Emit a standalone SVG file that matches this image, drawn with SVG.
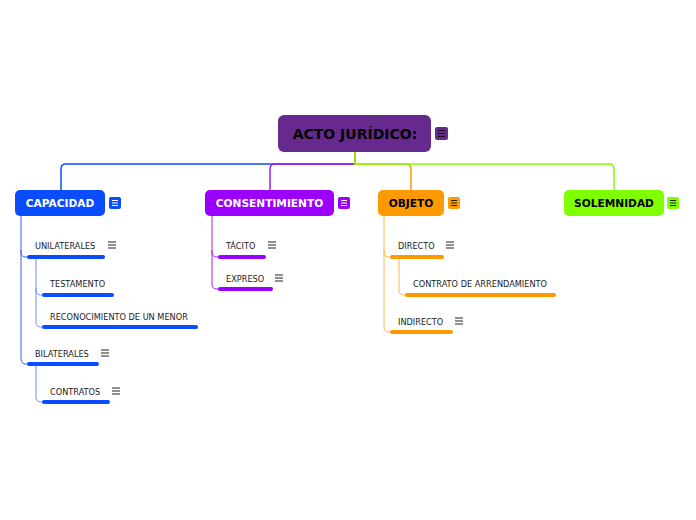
<svg xmlns="http://www.w3.org/2000/svg" width="696" height="520" viewBox="0 0 696 520">
<style>
.c{fill:none;stroke-width:1.5}
.s{fill:none;stroke-width:1}
.bar{fill:none;stroke-width:4;stroke-linecap:round}
.mt{font-family:"DejaVu Sans",Verdana,sans-serif;font-weight:bold;font-size:10.6px}
.st{font-family:"DejaVu Sans",Verdana,sans-serif;font-size:8.2px;fill:#222}
.ic{stroke-width:1.2}
</style>
<rect width="696" height="520" fill="#fff"/>
<g id="connectors">
<path class="c" stroke="#0a4cff" d="M355,152 V164 H66 Q61,164 61,169 V190"/>
<path class="c" stroke="#a020f0" d="M355,152 V164 H275 Q270,164 270,169 V190"/>
<path class="c" stroke="#ff9900" d="M355,152 V164 H406 Q411,164 411,169 V190"/>
<path class="c" stroke="#80ff00" d="M355,152 V164 H609 Q614,164 614,169 V190"/>
<path class="s" stroke="#2f63ff" d="M21,216 V252 Q21,257 26,257 H28 M21,250 V359 Q21,364 26,364 H28"/>
<path class="s" stroke="#6a8fff" d="M36,257 V290 Q36,295 41,295 H43 M36,288 V322 Q36,327 41,327 H43 M36,364 V397 Q36,402 41,402 H43"/>
<path class="s" stroke="#a020f0" d="M212,216 V252 Q212,257 217,257 H219 M212,250 V284 Q212,289 217,289 H219"/>
<path class="s" stroke="#ffb648" d="M384,216 V252 Q384,257 389,257 H391 M384,250 V327 Q384,332 389,332 H391 M399,257 V290 Q399,295 404,295 H406"/>
</g>
<g id="root">
<rect x="278" y="115" width="153" height="37" rx="6" fill="#662a8e"/>
<text x="355" y="139" text-anchor="middle" class="mt" style="font-size:14px" fill="#000">ACTO JURÍDICO:</text>
<rect x="435" y="127" width="13" height="13" rx="2" fill="#662a8e"/>
<path class="ic" stroke="#111" d="M438,130.5 H445 M438,133.5 H445 M438,136.5 H445"/>
</g>
<g id="capacidad">
<rect x="15" y="190" width="90" height="26" rx="5" fill="#0a4cff"/>
<text x="60" y="207" text-anchor="middle" class="mt" fill="#fff">CAPACIDAD</text>
<rect x="109" y="197" width="12" height="12" rx="2" fill="#0a4cff"/>
<path class="ic" stroke="#fff" d="M112,200.5 H118 M112,203 H118 M112,205.5 H118"/>
</g>
<g id="consentimiento">
<rect x="205" y="190" width="129" height="26" rx="5" fill="#9b00ff"/>
<text x="269.5" y="207" text-anchor="middle" class="mt" fill="#fff">CONSENTIMIENTO</text>
<rect x="338" y="197" width="12" height="12" rx="2" fill="#9b00ff"/>
<path class="ic" stroke="#fff" d="M341,200.5 H347 M341,203 H347 M341,205.5 H347"/>
</g>
<g id="objeto">
<rect x="378" y="190" width="66" height="26" rx="5" fill="#ff9900"/>
<text x="411" y="207" text-anchor="middle" class="mt" fill="#000">OBJETO</text>
<rect x="448" y="197" width="12" height="12" rx="2" fill="#ff9900"/>
<path class="ic" stroke="#222" d="M451,200.5 H457 M451,203 H457 M451,205.5 H457"/>
</g>
<g id="solemnidad">
<rect x="564" y="190" width="100" height="26" rx="5" fill="#80ff00"/>
<text x="614" y="207" text-anchor="middle" class="mt" fill="#000">SOLEMNIDAD</text>
<rect x="667" y="197" width="12" height="12" rx="2" fill="#80ff00"/>
<path class="ic" stroke="#222" d="M670,200.5 H676 M670,203 H676 M670,205.5 H676"/>
</g>
<g id="unilaterales">
<text x="35" y="249" class="st">UNILATERALES</text>
<path class="bar" stroke="#0a4cff" d="M29,257 H103"/>
<path class="ic" stroke="#222" d="M108,242 H116 M108,245 H116 M108,248 H116"/>
</g>
<g id="testamento">
<text x="50" y="287" class="st">TESTAMENTO</text>
<path class="bar" stroke="#0a4cff" d="M44,295 H112"/>
</g>
<g id="reconocimiento">
<text x="50" y="320" class="st">RECONOCIMIENTO DE UN MENOR</text>
<path class="bar" stroke="#0a4cff" d="M44,327 H196"/>
</g>
<g id="bilaterales">
<text x="35" y="357" class="st">BILATERALES</text>
<path class="bar" stroke="#0a4cff" d="M29,364 H97"/>
<path class="ic" stroke="#222" d="M101,350 H109 M101,353 H109 M101,356 H109"/>
</g>
<g id="contratos">
<text x="50" y="395" class="st">CONTRATOS</text>
<path class="bar" stroke="#0a4cff" d="M44,402 H108"/>
<path class="ic" stroke="#222" d="M112,388 H120 M112,391 H120 M112,394 H120"/>
</g>
<g id="tacito">
<text x="226" y="249" class="st">TÁCITO</text>
<path class="bar" stroke="#9b00ff" d="M220,257 H264"/>
<path class="ic" stroke="#222" d="M268,242 H276 M268,245 H276 M268,248 H276"/>
</g>
<g id="expreso">
<text x="226" y="282" class="st">EXPRESO</text>
<path class="bar" stroke="#9b00ff" d="M220,289 H271"/>
<path class="ic" stroke="#222" d="M275,275 H283 M275,278 H283 M275,281 H283"/>
</g>
<g id="directo">
<text x="398" y="249" class="st">DIRECTO</text>
<path class="bar" stroke="#ff9900" d="M392,257 H442"/>
<path class="ic" stroke="#222" d="M446,242 H454 M446,245 H454 M446,248 H454"/>
</g>
<g id="arrendamiento">
<text x="413" y="287" class="st">CONTRATO DE ARRENDAMIENTO</text>
<path class="bar" stroke="#ff9900" d="M407,295 H554"/>
</g>
<g id="indirecto">
<text x="398" y="325" class="st">INDIRECTO</text>
<path class="bar" stroke="#ff9900" d="M392,332 H451"/>
<path class="ic" stroke="#222" d="M455,318 H463 M455,321 H463 M455,324 H463"/>
</g>
</svg>
